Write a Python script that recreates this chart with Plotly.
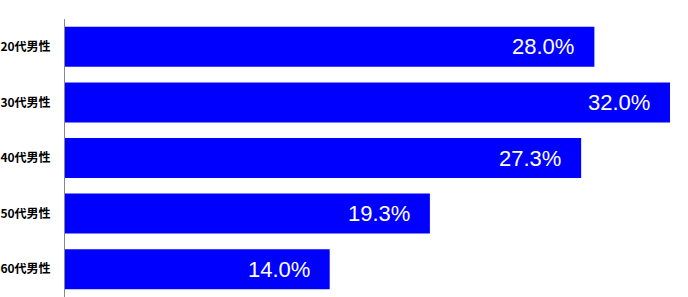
import plotly.graph_objects as go

categories = ["20代男性", "30代男性", "40代男性", "50代男性", "60代男性"]
values = [28.0, 32.0, 27.3, 19.3, 14.0]
value_labels = ["28.0%", "32.0%", "27.3%", "19.3%", "14.0%"]

fig = go.Figure()
fig.add_trace(go.Bar(
    y=categories, x=values, orientation="h",
    marker=dict(color="#0000FF", line=dict(width=0)),
    hoverinfo="skip",
))
for c, v, t in zip(categories, values, value_labels):
    fig.add_annotation(x=v, y=c, text=t, showarrow=False, xanchor="right",
                       xshift=-18, yanchor="middle",
                       font=dict(family="Liberation Sans, Arial", size=22, color="white"))

fig.update_layout(
    width=688, height=297,
    margin=dict(l=65, r=18, t=19, b=0),
    paper_bgcolor="white", plot_bgcolor="white",
    bargap=0.28, showlegend=False,
    xaxis=dict(range=[0, 32], visible=False, showgrid=False, zeroline=False),
    yaxis=dict(categoryorder="array", categoryarray=categories[::-1],
               showline=True, linecolor="#888888", linewidth=1, ticks="",
               showgrid=False, ticklabelstandoff=11,
               tickfont=dict(family="Noto Sans CJK JP", size=12, color="black", weight="bold")),
)
fig.write_html("out.html")
